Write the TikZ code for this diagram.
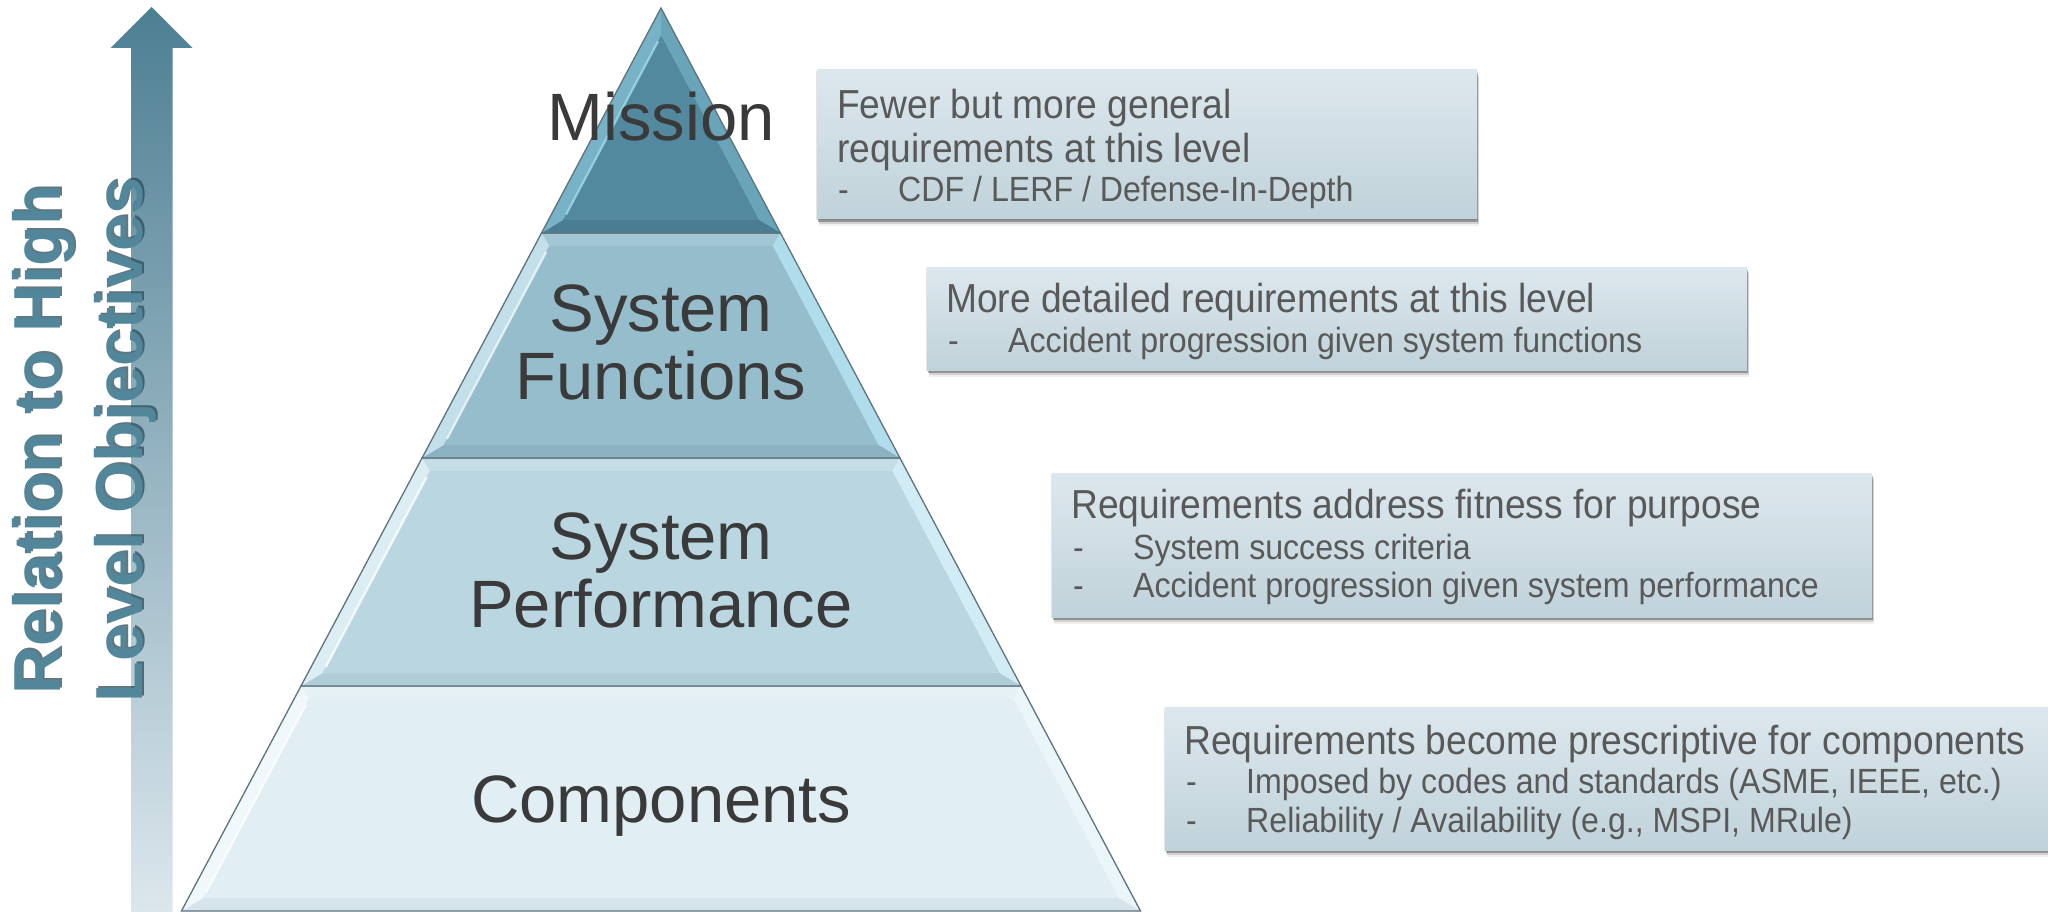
\documentclass[tikz,border=0pt]{standalone}
\usepackage{fontspec}
\setmainfont{Liberation Sans}
\newfontfamily\boxfont{Liberation Sans}[FakeStretch=0.918]
\usetikzlibrary{shadows,calc}

% colours
\definecolor{lblGrey}{HTML}{3A3A3A}
\definecolor{txtGrey}{HTML}{595959}
\definecolor{boxTop}{HTML}{DDE8EE}
\definecolor{boxBot}{HTML}{C0D2DA}
\definecolor{arrowTop}{HTML}{4D7F93}
\definecolor{arrowBot}{HTML}{DCE7ED}
\definecolor{vText}{HTML}{52879B}
\definecolor{vShade}{HTML}{2C4B58}
\definecolor{edgeLine}{HTML}{5E737C}
% pyramid levels: base, top bevel, left bevel, right bevel, bottom bevel, highlight
\definecolor{mBase}{HTML}{53899E}
\definecolor{mLeft}{HTML}{78B2C6}
\definecolor{mRight}{HTML}{6AA4B9}
\definecolor{mBottom}{HTML}{4A7D91}
\definecolor{mHi}{HTML}{A4DCEE}
\definecolor{fBase}{HTML}{96BDCC}
\definecolor{fTop}{HTML}{A2C6D4}
\definecolor{fLeft}{HTML}{C2DFEA}
\definecolor{fRight}{HTML}{B0DDEC}
\definecolor{fBottom}{HTML}{8CB2C1}
\definecolor{fHi}{HTML}{F2FAFD}
\definecolor{pBase}{HTML}{BAD7E1}
\definecolor{pTop}{HTML}{C4DDE6}
\definecolor{pLeft}{HTML}{DCEEF4}
\definecolor{pRight}{HTML}{D2ECF5}
\definecolor{pBottom}{HTML}{AFCCD7}
\definecolor{pHi}{HTML}{FFFFFF}
\definecolor{cBase}{HTML}{E1EEF4}
\definecolor{cTop}{HTML}{E6F1F6}
\definecolor{cLeft}{HTML}{F0F8FB}
\definecolor{cRight}{HTML}{EAF6FA}
\definecolor{cBottom}{HTML}{D6E5EC}
\definecolor{cHi}{HTML}{FFFFFF}

% one bevelled level of the pyramid between heights #1 (top) and #2 (bottom);
% #3 is the colour prefix (m, f, p or c)
\newcommand\pyrlevel[3]{%
  \pgfmathsetmacro\yt{#1}%
  \pgfmathsetmacro\yb{#2}%
  \pgfmathsetmacro\hwt{0.531*(\yt-8)}%
  \pgfmathsetmacro\hwb{0.531*(\yb-8)}%
  \pgfmathsetmacro\yit{max(\yt+13,35.7)}%
  \pgfmathsetmacro\yib{\yb-13}%
  \pgfmathsetmacro\hwit{max(0.531*(\yit-8)-14.7,0)}%
  \pgfmathsetmacro\hwib{0.531*(\yib-8)-14.7}%
  \coordinate (otl) at (661-\hwt,\yt);
  \coordinate (otr) at (661+\hwt,\yt);
  \coordinate (obl) at (661-\hwb,\yb);
  \coordinate (obr) at (661+\hwb,\yb);
  \coordinate (itl) at (661-\hwit,\yit);
  \coordinate (itr) at (661+\hwit,\yit);
  \coordinate (ibl) at (661-\hwib,\yib);
  \coordinate (ibr) at (661+\hwib,\yib);
  \fill[#3Base] (otl) -- (otr) -- (obr) -- (obl) -- cycle;
  \ifx#3m\else\fill[#3Top] (otl) -- (otr) -- (itr) -- (itl) -- cycle;\fi
  \fill[#3Right] (otr) -- (obr) -- (ibr) -- (itr) -- cycle;
  \fill[#3Bottom] (obr) -- (obl) -- (ibl) -- (ibr) -- cycle;
  \fill[#3Left] (obl) -- (otl) -- (itl) -- (ibl) -- cycle;
  \fill[#3Base] (itl) -- (itr) -- (ibr) -- (ibl) -- cycle;
  \draw[#3Hi, line width=2.2pt, opacity=0.8] ($(ibl)!0.03!(itl)$) -- ($(ibl)!0.97!(itl)$);
  \draw[edgeLine, line width=1.3pt, line join=miter] (obl) -- (otl) -- (otr) -- (obr) -- cycle;
}

\newcommand\dashitem[1]{\makebox[60pt][l]{-}#1}

\begin{document}
\begin{tikzpicture}[x=1pt,y=-1pt,
  pyrlabel/.style={anchor=base, inner sep=0pt, text=lblGrey,
    font=\fontsize{67}{70}\selectfont},
  vlabel/.style={anchor=base, inner sep=0pt, rotate=90,
    font=\bfseries\fontsize{66.5}{70}\selectfont},
  callout/.style={anchor=north west, inner sep=0pt, outer sep=0pt,
    top color=boxTop, bottom color=boxBot,
    general shadow={shadow xshift=2pt, shadow yshift=-7pt, fill=black, opacity=0.06},
    general shadow={shadow xshift=1.5pt, shadow yshift=-5pt, fill=black, opacity=0.12},
    general shadow={shadow xshift=1pt, shadow yshift=-3pt, fill=black, opacity=0.30},
    general shadow={shadow xshift=-1pt, shadow yshift=-1pt, fill=black, opacity=0.10}},
  headtxt/.style={anchor=base west, inner sep=0pt, text=txtGrey,
    text height=30pt, text depth=8pt,
    font=\boxfont\fontsize{40.5}{40}\selectfont},
  subtxt/.style={anchor=base west, inner sep=0pt, text=txtGrey,
    text height=26pt, text depth=7pt,
    font=\boxfont\fontsize{35}{36}\selectfont}]

\useasboundingbox (0,0) rectangle (2048,912);
\fill[white] (0,0) rectangle (2048,912);

% upward arrow on the left
\coordinate (arrowtip) at (151.7,7);
\coordinate (arrowfoot) at (151.7,912);
\shade[top color=arrowTop, bottom color=arrowBot]
  (arrowtip) -- ++(41,41) -- ++(-20,0) |- (arrowfoot) -- ++(-20.7,0)
  -- ++(0,-864) -- ++(-20.3,0) -- cycle;

% axis caption
\foreach \n/\x/\t in {vt1/60/{Relation to High}, vt2/142/{Level Objectives}}{
  \node[vlabel, text=vShade, opacity=0.75, xshift=2pt, yshift=-2pt] at (\x,440) {\t};
  \node[vlabel, text=vText] (\n) at (\x,440) {\t};
}

% pyramid
\pyrlevel{686}{911}{c}
\pyrlevel{458}{686}{p}
\pyrlevel{233}{458}{f}
\pyrlevel{8}{233}{m}

\node[pyrlabel] (lm)  at (661,141) {Mission};
\node[pyrlabel] (lf1) at (661,331) {System};
\node[pyrlabel] (lf2) at (661,399) {Functions};
\node[pyrlabel] (lp1) at (661,559) {System};
\node[pyrlabel] (lp2) at (661,627) {Performance};
\node[pyrlabel] (lc)  at (661,822) {Components};

% callouts
\node[callout, minimum width=660pt, minimum height=149pt] (box1) at (817,70) {};
\node[headtxt] (b1a) at (837,119) {Fewer but more general};
\node[headtxt] (b1b) at (837,163) {requirements at this level};
\node[subtxt]  (b1c) at (838,202) {\dashitem{CDF / LERF / Defense-In-Depth}};

\node[callout, minimum width=820pt, minimum height=103pt] (box2) at (927,267) {};
\node[headtxt] (b2a) at (946,312) {More detailed requirements at this level};
\node[subtxt]  (b2b) at (948,352) {\dashitem{Accident progression given system functions}};

\node[callout, minimum width=820pt, minimum height=144pt] (box3) at (1052,473) {};
\node[headtxt] (b3a) at (1071,518) {Requirements address fitness for purpose};
\node[subtxt]  (b3b) at (1073,559) {\dashitem{System success criteria}};
\node[subtxt]  (b3c) at (1073,597) {\dashitem{Accident progression given system performance}};

\node[callout, minimum width=900pt, minimum height=143pt] (box4) at (1165,707) {};
\node[headtxt] (b4a) at (1184,754) {Requirements become prescriptive for components};
\node[subtxt]  (b4b) at (1186,793) {\dashitem{Imposed by codes and standards (ASME, IEEE, etc.)}};
\node[subtxt]  (b4c) at (1186,832) {\dashitem{Reliability / Availability (e.g., MSPI, MRule)}};

\end{tikzpicture}
\end{document}
